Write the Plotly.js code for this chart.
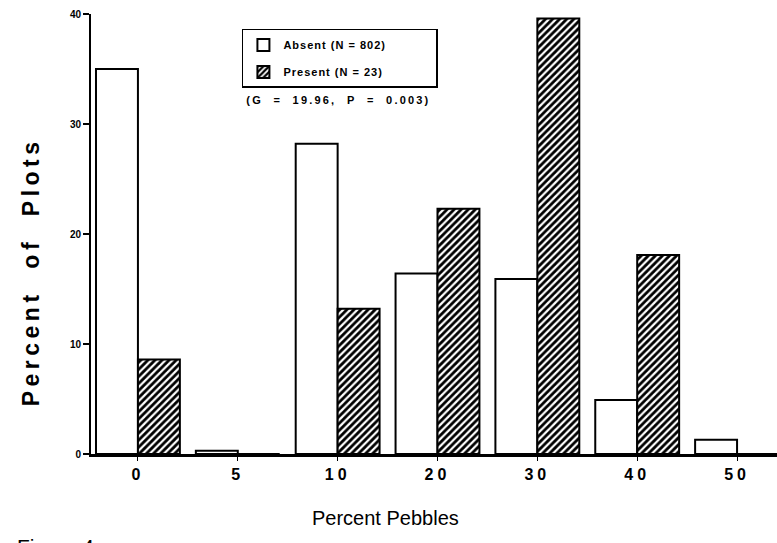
<!DOCTYPE html>
<html>
<head>
<meta charset="utf-8">
<script src="https://cdn.plot.ly/plotly-3.0.1.min.js"></script>
<style>
html,body{margin:0;padding:0;background:#fff;}
#chart{width:777px;height:543px;}
.legendtext{letter-spacing:1px;}
</style>
</head>
<body>
<div id="chart"></div>
<script>
// Data
const categories = ['0', '5', '10', '20', '30', '40', '50'];
const absentValues = [35.0, 0.3, 28.2, 16.4, 15.9, 4.9, 1.3];
const presentValues = [8.6, 0, 13.2, 22.3, 39.6, 18.1, 0];
const yTickVals = [0, 10, 20, 30, 40];
const seriesNames = ['Absent (N = 802)', 'Present (N = 23)'];
const statText = '(G\u00a0 =\u00a0 19.96,\u00a0 P\u00a0 =\u00a0 0.003)';

const FONT = 'Liberation Sans, Arial, Helvetica, sans-serif';
const PAD = '\u00a0'.repeat(11);

const traces = [
  {
    type: 'bar', name: seriesNames[0] + PAD, x: categories, y: absentValues,
    legendgroup: 'absent',
    marker: {color: '#ffffff', line: {color: '#000000', width: 2}}
  },
  {
    type: 'bar', name: seriesNames[1] + PAD, x: categories, y: presentValues,
    legendgroup: 'present',
    marker: {
      color: '#ffffff',
      line: {color: '#000000', width: 2},
      pattern: {shape: '/', fgcolor: '#000000', bgcolor: '#ffffff', size: 5, solidity: 0.55}
    }
  }
];

const layout = {
  width: 777, height: 543,
  margin: {l: 91, r: 0, t: 14, b: 89},
  paper_bgcolor: '#ffffff', plot_bgcolor: '#ffffff',
  font: {family: FONT, color: '#000000'},
  barmode: 'group', bargap: 0.16, bargroupgap: 0,
  showlegend: true,
  legend: {
    x: 0.22, y: 0.966, xanchor: 'left', yanchor: 'top',
    bordercolor: '#000000', borderwidth: 1.5, bgcolor: '#ffffff',
    font: {family: FONT, size: 11, color: '#000000', weight: 'bold'},
    tracegroupgap: 8, traceorder: 'grouped'
  },
  xaxis: {
    type: 'category', range: [-0.47, 6.4],
    showline: true, linecolor: '#000000', linewidth: 2.5,
    ticks: 'outside', ticklen: 4, tickwidth: 1, tickcolor: '#000000',
    showgrid: false, zeroline: false,
    tickfont: {family: FONT, size: 16, weight: 'bold', color: '#000000'},
    fixedrange: true
  },
  yaxis: {
    range: [0, 40], tickvals: yTickVals,
    showline: true, linecolor: '#000000', linewidth: 2,
    ticks: 'outside', ticklen: 6, tickwidth: 2, tickcolor: '#000000',
    showgrid: false, zeroline: false,
    tickfont: {family: FONT, size: 10, weight: 'bold', color: '#000000'},
    fixedrange: true
  },
  annotations: [
    {text: 'Percent\u00a0\u00a0of\u00a0\u00a0Plots', textangle: -90, xref: 'paper', yref: 'paper',
     x: -0.0875, y: 0.414, xanchor: 'center', yanchor: 'middle', showarrow: false,
     font: {family: FONT, size: 23, weight: 'bold', color: '#000000'}},
    {text: 'Percent Pebbles', xref: 'paper', yref: 'paper',
     x: 0.43, y: -0.145, xanchor: 'center', yanchor: 'middle', showarrow: false,
     font: {family: FONT, size: 20, color: '#000000'}},
    {text: statText, xref: 'paper', yref: 'paper',
     x: 0.3615, y: 0.8045, xanchor: 'center', yanchor: 'middle', showarrow: false,
     font: {family: FONT, size: 11, weight: 'bold', color: '#000000'}},
    {text: 'Figure 4', xref: 'paper', yref: 'paper',
     x: -0.1108, y: -0.1795, xanchor: 'left', yanchor: 'top', showarrow: false,
     font: {family: FONT, size: 21, color: '#000000'}}
  ]
};

const spacing = {0: '4.5px', 2: '2.2px'};
Plotly.newPlot('chart', traces, layout, {displayModeBar: false, staticPlot: true}).then(function (gd) {
  gd.querySelectorAll('g.annotation').forEach(function (g) {
    const idx = g.getAttribute('data-index');
    const t = g.querySelector('text');
    if (t && spacing[idx]) t.style.letterSpacing = spacing[idx];
  });
  gd.querySelectorAll('g.xtick text').forEach(function (t) {
    t.style.letterSpacing = '4px';
  });
});
</script>
</body>
</html>
